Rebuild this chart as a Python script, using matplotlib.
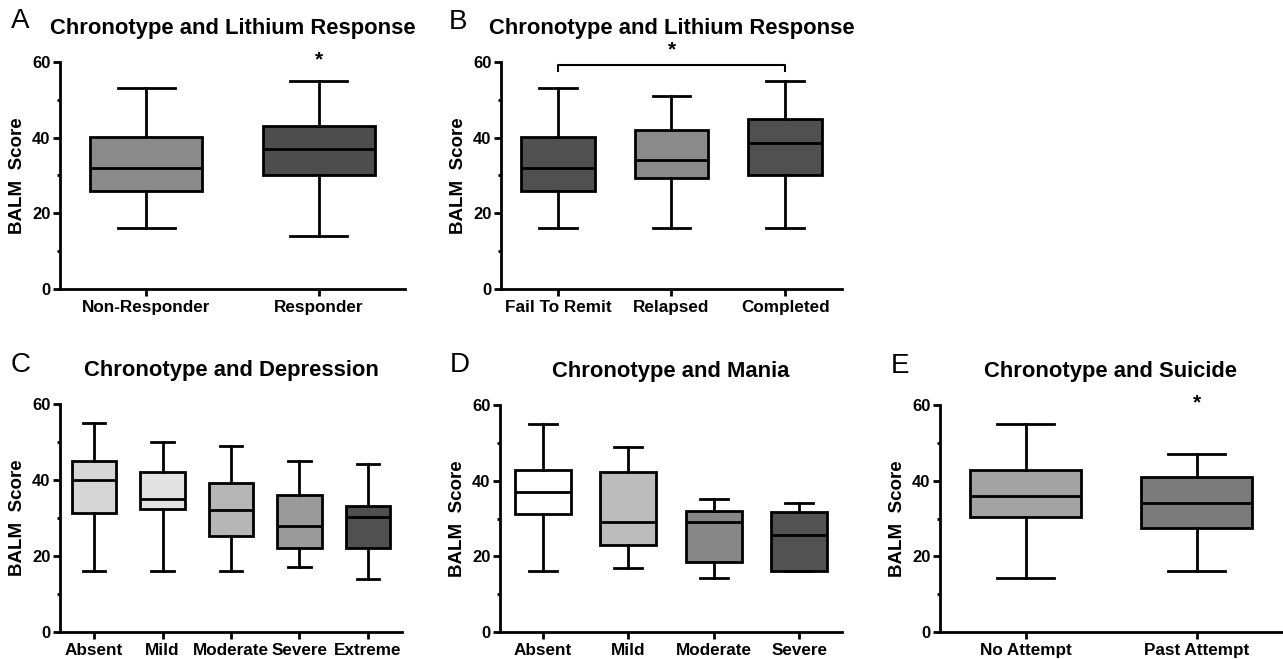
import matplotlib
matplotlib.use('Agg')
import matplotlib.pyplot as plt

plt.rcParams['font.family'] = ['Liberation Sans', 'DejaVu Sans']
plt.rcParams['font.weight'] = 'bold'
plt.rcParams['axes.labelweight'] = 'bold'

# A - lithium response (2 groups)
a_groups = ['Non-Responder', 'Responder']
a_low = [16, 14]
a_q1 = [26, 30]
a_med = [32, 37]
a_q3 = [40.3, 43]
a_high = [53, 55]
a_colors = ['#8a8a8a', '#4d4d4d']

# B - lithium response (3 groups)
b_groups = ['Fail To Remit', 'Relapsed', 'Completed']
b_low = [16, 16, 16]
b_q1 = [26, 29.3, 30]
b_med = [32, 34, 38.5]
b_q3 = [40.3, 42, 45]
b_high = [53, 51, 55]
b_colors = ['#505050', '#8a8a8a', '#505050']

# C - depression
c_groups = ['Absent', 'Mild', 'Moderate', 'Severe', 'Extreme']
c_low = [16, 16, 16, 17, 14]
c_q1 = [31.3, 32.5, 25.2, 22.2, 22.2]
c_med = [40, 35.1, 32.2, 28, 30.2]
c_q3 = [45.1, 42, 39.1, 36.1, 33.2]
c_high = [55, 50, 49, 45, 44.2]
c_colors = ['#d6d6d6', '#e2e2e2', '#b6b6b6', '#9a9a9a', '#505050']

# D - mania
d_groups = ['Absent', 'Mild', 'Moderate', 'Severe']
d_low = [16, 17, 14.2, 16]
d_q1 = [31.2, 22.9, 18.4, 16.1]
d_med = [37, 29, 29, 25.6]
d_q3 = [42.8, 42.4, 32.1, 31.8]
d_high = [55, 48.8, 35.1, 34]
d_colors = ['#ffffff', '#bcbcbc', '#878787', '#525252']

# E - suicide
e_groups = ['No Attempt', 'Past Attempt']
e_low = [14.2, 16]
e_q1 = [30.3, 27.6]
e_med = [36, 34]
e_q3 = [42.8, 41.1]
e_high = [55, 47.1]
e_colors = ['#a3a3a3', '#7b7b7b']

W, H = 1283, 659
fig = plt.figure(figsize=(W / 100, H / 100), dpi=100)
LW = 2.0


def box_panel(rect, groups, low, q1, med, q3, high, colors, title, letter, letter_xy):
    l, t, r, b = rect
    ax = fig.add_axes([l / W, 1 - b / H, (r - l) / W, (b - t) / H])
    stats = [dict(whislo=lo, q1=a, med=m, q3=c, whishi=hi)
             for lo, a, m, c, hi in zip(low, q1, med, q3, high)]
    n = len(groups)
    res = ax.bxp(stats, positions=range(n), widths=0.65, patch_artist=True,
                 showfliers=False, capwidths=0.33,
                 boxprops=dict(linewidth=LW, edgecolor='black'),
                 whiskerprops=dict(linewidth=LW, color='black'),
                 capprops=dict(linewidth=LW, color='black'),
                 medianprops=dict(linewidth=LW, color='black'))
    for patch, col in zip(res['boxes'], colors):
        patch.set_facecolor(col)
    ax.set_xlim(-0.5, n - 0.5)
    ax.set_ylim(0, 60)
    ax.set_xticks(range(n))
    ax.set_xticklabels(groups, fontsize=12.3)
    ax.set_yticks([0, 20, 40, 60])
    ax.set_yticks([10, 30, 50], minor=True)
    ax.tick_params(axis='y', which='major', length=5, width=LW, labelsize=12, pad=2)
    ax.tick_params(axis='y', which='minor', length=2.5, width=LW)
    ax.tick_params(axis='x', length=5, width=LW, pad=3)
    for s in ['top', 'right']:
        ax.spines[s].set_visible(False)
    for s in ['left', 'bottom']:
        ax.spines[s].set_linewidth(LW)
    ax.set_ylabel('BALM  Score', fontsize=13.5, fontweight='bold', labelpad=4)
    ax.set_title(title, fontsize=15.8, fontweight='bold', pad=20)
    fig.text(letter_xy[0] / W, 1 - letter_xy[1] / H, letter, fontsize=20,
             fontweight='normal', ha='left', va='center')
    return ax


ax_a = box_panel((60, 62, 405, 289), a_groups, a_low, a_q1, a_med, a_q3, a_high,
                 a_colors, 'Chronotype and Lithium Response', 'A', (11, 21))
ax_a.text(1, 60.5, '*', fontsize=15, ha='center', va='center', clip_on=False)

ax_b = box_panel((501, 62, 842, 289), b_groups, b_low, b_q1, b_med, b_q3, b_high,
                 b_colors, 'Chronotype and Lithium Response', 'B', (449, 22))
ax_b.plot([0, 0, 2, 2], [57.6, 59.3, 59.3, 57.6], color='black', lw=1.5, clip_on=False)
ax_b.text(1, 63.2, '*', fontsize=15, ha='center', va='center', clip_on=False)

box_panel((60, 404, 402, 632), c_groups, c_low, c_q1, c_med, c_q3, c_high,
          c_colors, 'Chronotype and Depression', 'C', (11, 365))

box_panel((500, 405, 842, 632), d_groups, d_low, d_q1, d_med, d_q3, d_high,
          d_colors, 'Chronotype and Mania', 'D', (450, 365))

ax_e = box_panel((940, 405, 1282, 632), e_groups, e_low, e_q1, e_med, e_q3, e_high,
                 e_colors, 'Chronotype and Suicide', 'E', (891, 366))
ax_e.text(1, 60.5, '*', fontsize=15, ha='center', va='center', clip_on=False)

fig.savefig('out.png', dpi=100)
